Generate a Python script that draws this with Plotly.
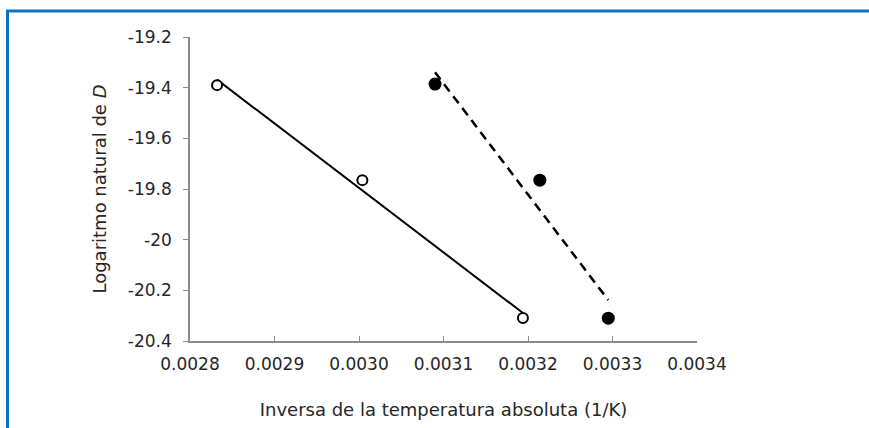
import numpy as np
import plotly.graph_objects as go

# Measured points: inverse absolute temperature (1/K) vs ln(D)
inv_temp_open = [0.002832, 0.003004, 0.003194]
ln_d_open = [-19.39, -19.765, -20.309]

inv_temp_filled = [0.003090, 0.003214, 0.003295]
ln_d_filled = [-19.386, -19.765, -20.31]

x_tick_vals = [0.0028, 0.0029, 0.0030, 0.0031, 0.0032, 0.0033, 0.0034]
x_tick_text = ["0.0028", "0.0029", "0.0030", "0.0031", "0.0032", "0.0033", "0.0034"]
y_tick_vals = [-19.2, -19.4, -19.6, -19.8, -20.0, -20.2, -20.4]
y_tick_text = ["-19.2", "-19.4", "-19.6", "-19.8", "-20", "-20.2", "-20.4"]

W, H = 869, 428
ML, MR, MT, MB = 190, 172, 37, 87
PW, PH = W - ML - MR, H - MT - MB


def trend(xs, ys):
    # least-squares line drawn over the span of the data
    m, b = np.polyfit(xs, ys, 1)
    xe = np.array([min(xs), max(xs)])
    return xe, m * xe + b


fig = go.Figure()

xo, yo = trend(inv_temp_open, ln_d_open)
fig.add_trace(go.Scatter(x=xo, y=yo, mode="lines",
                         line=dict(color="black", width=2), showlegend=False))
xf, yf = trend(inv_temp_filled, ln_d_filled)
fig.add_trace(go.Scatter(x=xf, y=yf, mode="lines",
                         line=dict(color="black", width=2.5, dash="9px,6px"),
                         showlegend=False))

fig.add_trace(go.Scatter(x=inv_temp_open, y=ln_d_open, mode="markers",
                         marker=dict(symbol="circle", size=10, color="white",
                                     line=dict(color="black", width=2)),
                         showlegend=False))
fig.add_trace(go.Scatter(x=inv_temp_filled, y=ln_d_filled, mode="markers",
                         marker=dict(symbol="circle", size=13, color="black",
                                     line=dict(width=0)),
                         showlegend=False))


def px_x(p):
    return (p - ML) / PW


def px_y(p):
    return (H - MB - p) / PH


# blue frame along the top and left edges
frame = dict(color="#0b72c4", width=3)
fig.add_shape(type="line", xref="paper", yref="paper",
              x0=px_x(6), x1=px_x(872), y0=px_y(11), y1=px_y(11), line=frame)
fig.add_shape(type="line", xref="paper", yref="paper",
              x0=px_x(7.5), x1=px_x(7.5), y0=px_y(11), y1=px_y(432), line=frame)

tick_font = dict(family="DejaVu Sans, sans-serif", size=17, color="#262626")
title_font = dict(family="DejaVu Sans, sans-serif", size=18, color="#262626")

fig.update_layout(
    width=W, height=H,
    margin=dict(l=ML, r=MR, t=MT, b=MB, autoexpand=False),
    paper_bgcolor="white", plot_bgcolor="white",
    font=tick_font,
    xaxis=dict(range=[0.0028, 0.0034], tickvals=x_tick_vals, ticktext=x_tick_text,
               showgrid=False, zeroline=False, showline=True,
               linecolor="#8c8c8c", linewidth=1.5,
               ticks="inside", ticklen=5, tickcolor="#8c8c8c", tickwidth=1,
               ticklabelstandoff=7, tickfont=tick_font,
               title=dict(text="Inversa de la temperatura absoluta (1/K)",
                          standoff=30, font=title_font)),
    yaxis=dict(range=[-20.4, -19.2], tickvals=y_tick_vals, ticktext=y_tick_text,
               showgrid=False, zeroline=False, showline=True,
               linecolor="#8c8c8c", linewidth=1.5,
               ticks="outside", ticklen=5, tickcolor="#8c8c8c", tickwidth=1,
               ticklabelstandoff=8, tickfont=tick_font,
               title=dict(text="Logaritmo natural de <i>D</i>",
                          standoff=17, font=title_font)),
)

fig.write_html("out.html")
